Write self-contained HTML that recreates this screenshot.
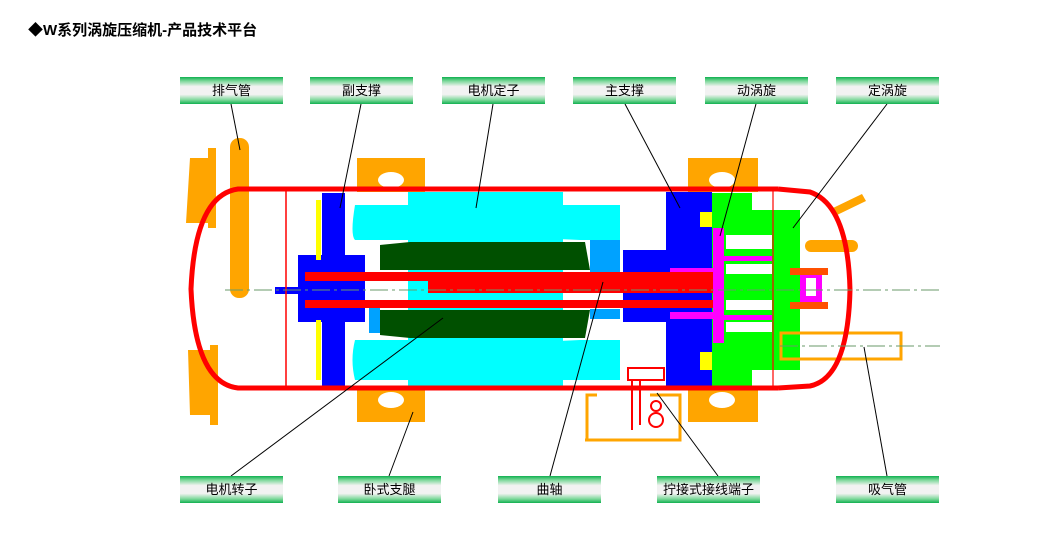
<!DOCTYPE html>
<html><head><meta charset="utf-8"><style>
body{margin:0;background:#fff;}
.wrap{position:relative;width:1040px;height:549px;overflow:hidden;font-family:"Liberation Sans","Noto Sans CJK SC",sans-serif;}
.t{position:absolute;left:28px;top:19px;font-size:15px;font-weight:bold;color:#000;}
.lb{position:absolute;width:103px;height:27px;line-height:27px;text-align:center;font-size:13px;color:#000;
background:linear-gradient(#10b050 0%,#7dd89a 15%,#f2f2f2 35%,#f2f2f2 65%,#7dd89a 85%,#10b050 100%);}
</style></head><body><div class="wrap">
<div class="t">◆W系列涡旋压缩机-产品技术平台</div>
<svg width="1040" height="549" style="position:absolute;left:0;top:0">
<!-- orange brackets / feet -->
<g fill="#ffa500">
<path d="M190,158 h18 v-10 h8 v80 h-8 v-5 h-22 z"/>
<path d="M188,350 h22 v-5 h8 v80 h-8 v-10 h-20 z"/>
<rect x="357" y="158" width="68" height="34"/>
<rect x="357" y="388" width="68" height="34"/>
<rect x="688" y="158" width="70" height="34"/>
<rect x="688" y="388" width="70" height="34"/>
<rect x="230" y="138" width="19" height="160" rx="9"/>
<path d="M833,208 L862,194 L866,201 L837,215 z"/>
<rect x="805" y="240" width="53" height="12" rx="6"/>
</g>
<g fill="#fff"><ellipse cx="391" cy="180" rx="13" ry="8"/><ellipse cx="391" cy="400" rx="13" ry="8"/><ellipse cx="722" cy="180" rx="13" ry="8"/><ellipse cx="722" cy="400" rx="13" ry="8"/></g>
<!-- stator -->
<g fill="#00ffff">
<rect x="408" y="192" width="155" height="196"/>
<path d="M355,205 h265 v35 h-40 q-100,-5 -160,0 h-65 q-5,-5 0,-35z"/>
<path d="M355,340 h65 q60,5 160,0 h40 v40 h-265 q-5,-20 0,-40z"/>
</g>
<!-- rotor -->
<g fill="#005000"><path d="M380,245 L410,242 H585 L590,270 H380z"/><path d="M380,310 H590 L585,338 H410 L380,335z"/></g>
<!-- blue parts -->
<g fill="#0000ff">
<rect x="322" y="193" width="23" height="193"/>
<rect x="298" y="255" width="67" height="67"/>
<rect x="275" y="287" width="25" height="7"/>
<rect x="666" y="192" width="46" height="195"/>
<rect x="623" y="250" width="45" height="72"/>
</g>
<rect x="590" y="240" width="30" height="35" fill="#00a2ff"/>
<rect x="590" y="309" width="30" height="10" fill="#00a2ff"/>
<rect x="369" y="307" width="11" height="26" fill="#00a2ff"/>
<g fill="#ffff00"><rect x="316" y="200" width="5" height="60"/><rect x="316" y="320" width="5" height="60"/><rect x="700" y="212" width="35" height="15"/><rect x="700" y="352" width="22" height="18"/></g>
<!-- green fixed scroll -->
<path d="M712,193 H752 V210 H800 V370 H752 V388 H712z" fill="#00ff00"/>
<!-- magenta -->
<g fill="#ff00ff"><rect x="713" y="228" width="11" height="115"/><rect x="670" y="268" width="45" height="7"/><rect x="670" y="312" width="45" height="7"/>
<rect x="724" y="256" width="48" height="5"/><rect x="724" y="315" width="48" height="5"/><rect x="800" y="268" width="22" height="36"/></g>
<g fill="#fff"><rect x="726" y="235" width="46" height="14"/><rect x="726" y="264" width="46" height="10"/><rect x="726" y="300" width="46" height="10"/><rect x="726" y="322" width="46" height="10"/><rect x="806" y="278" width="10" height="18"/></g>
<g fill="#ff5000"><rect x="790" y="268" width="38" height="7"/><rect x="790" y="302" width="38" height="7"/></g>
<!-- red shaft -->
<g fill="#ff0000">
<rect x="305" y="272" width="370" height="9"/>
<rect x="428" y="272" width="285" height="21"/>
<rect x="305" y="300" width="408" height="8"/>
</g>
<!-- suction tube -->
<rect x="781" y="333" width="120" height="26" fill="none" stroke="#ffa500" stroke-width="3"/>
<!-- shell -->
<g fill="none" stroke="#ff0000">
<path d="M283,189 H778 M283,388 H778" stroke-width="5"/>
<path d="M283,189 H238 Q195,195 191,289 Q195,383 238,388 H283" stroke-width="5"/>
<path d="M778,189 L810,192 Q848,205 850,290 Q848,378 810,386 L778,388" stroke-width="5"/>
<line x1="286" y1="190" x2="286" y2="388" stroke-width="1.5"/>
<line x1="773" y1="190" x2="773" y2="388" stroke-width="1.2"/>
</g>
<!-- terminal -->
<g fill="none" stroke="#ff0000" stroke-width="2"><rect x="628" y="368" width="36" height="12"/><line x1="632" y1="380" x2="632" y2="430"/><line x1="640" y1="380" x2="640" y2="425"/><circle cx="656" cy="420" r="7"/><circle cx="656" cy="406" r="5"/></g>
<path d="M587,440 V395 H597 M650,395 H680 V440 H585" fill="none" stroke="#ffa500" stroke-width="3"/>
<!-- centerlines -->
<g stroke="#6a9a6a" stroke-width="1" stroke-dasharray="18,4,3,4"><line x1="225" y1="290" x2="940" y2="290"/><line x1="780" y1="346" x2="940" y2="346"/></g>
<!-- leaders -->
<g stroke="#000" stroke-width="1">
<line x1="231" y1="104" x2="240" y2="150"/>
<line x1="361" y1="104" x2="340" y2="208"/>
<line x1="493" y1="104" x2="476" y2="208"/>
<line x1="625" y1="104" x2="680" y2="208"/>
<line x1="756" y1="104" x2="720" y2="236"/>
<line x1="887" y1="104" x2="793" y2="228"/>
<line x1="231" y1="476" x2="443" y2="318"/>
<line x1="389" y1="476" x2="413" y2="412"/>
<line x1="550" y1="476" x2="603" y2="282"/>
<line x1="718" y1="476" x2="657" y2="393"/>
<line x1="887" y1="476" x2="864" y2="347"/>
</g>
</svg>
<div class="lb" style="left:180px;top:77px">排气管</div>
<div class="lb" style="left:310px;top:77px">副支撑</div>
<div class="lb" style="left:442px;top:77px">电机定子</div>
<div class="lb" style="left:573px;top:77px">主支撑</div>
<div class="lb" style="left:705px;top:77px">动涡旋</div>
<div class="lb" style="left:836px;top:77px">定涡旋</div>
<div class="lb" style="left:180px;top:476px">电机转子</div>
<div class="lb" style="left:338px;top:476px">卧式支腿</div>
<div class="lb" style="left:498px;top:476px">曲轴</div>
<div class="lb" style="left:657px;top:476px">拧接式接线端子</div>
<div class="lb" style="left:836px;top:476px">吸气管</div>
</div></body></html>
